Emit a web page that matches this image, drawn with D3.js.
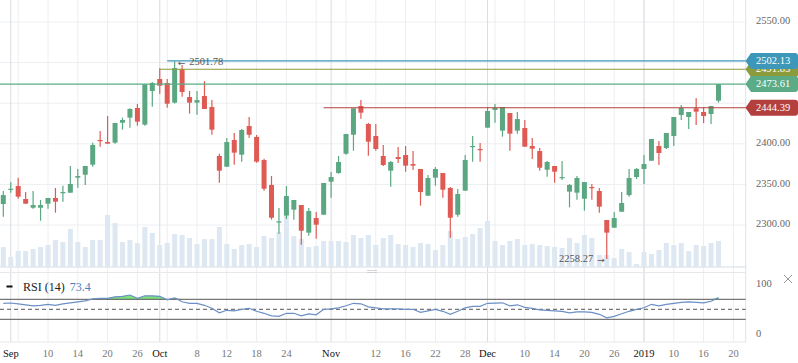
<!DOCTYPE html>
<html>
<head>
<meta charset="utf-8">
<script src="https://cdn.jsdelivr.net/npm/d3@7"></script>
<style>
  body { margin: 0; background: #fff; }
  svg { display: block; font-family: 'Liberation Serif', 'Times New Roman', serif; }
</style>
</head>
<body>
<svg id="chart" width="798" height="363"></svg>
<script>
// daily bars, index 0 = Aug 31
const opens = [2325.9,2343.5,2348.0,2332.0,2321.3,2321.3,2326.3,2333.3,2339.8,2339.8,
  2358.3,2362.0,2374.3,2404.7,2402.2,2401.4,2426.0,2432.2,2444.1,2423.6,
  2465.0,2479.8,2474.9,2450.7,2492.1,2457.6,2450.7,2458.9,2445.3,2385.0,
  2371.8,2404.7,2386.6,2421.9,2408.4,2380.0,2349.3,2303.3,2311.5,2318.9,
  2324.6,2290.6,2308.6,2312.7,2353.4,2364.0,2387.8,2411.2,2446.6,2424.4,
  2409.6,2385.0,2366.9,2383.7,2386.2,2375.1,2369.0,2336.1,2358.3,2364.0,
  2345.6,2312.7,2342.3,2396.5,2393.6,2419.9,2441.6,2416.2,2437.9,2416.2,
  2419.5,2397.3,2391.1,2368.1,2372.7,2358.3,2341.1,2339.8,2332.4,2346.8,
  2341.9,2306.2,2296.7,2316.4,2336.9,2359.1,2369.0,2379.2,2397.3,2394.8,
  2409.6,2435.5,2433.0,2443.7,2439.2,2436.7,2453.1];
const highs = [2341.9,2352.6,2358.3,2340.6,2341.9,2330.8,2333.3,2345.6,2348.4,2372.7,
  2369.0,2372.7,2401.4,2415.8,2434.2,2425.6,2432.2,2443.7,2449.0,2473.2,
  2476.1,2492.9,2479.8,2501.78,2497.0,2465.0,2465.0,2477.3,2453.9,2387.8,
  2407.1,2413.3,2418.2,2433.0,2410.8,2381.7,2360.3,2320.9,2348.0,2330.8,
  2324.6,2320.9,2316.0,2351.7,2365.3,2385.0,2412.1,2443.7,2453.9,2425.6,
  2424.4,2398.5,2378.8,2396.1,2397.3,2391.1,2369.0,2361.6,2371.4,2364.0,
  2346.8,2344.3,2386.2,2409.6,2401.0,2445.3,2449.0,2445.3,2437.9,2439.2,
  2429.3,2407.1,2394.8,2378.8,2372.7,2378.8,2350.5,2360.3,2352.9,2350.5,
  2345.6,2306.2,2316.0,2340.6,2369.0,2370.2,2386.2,2405.9,2403.4,2413.3,
  2433.0,2447.8,2439.2,2456.4,2445.3,2446.6,2473.61];
const lows = [2310.3,2339.8,2332.4,2325.9,2320.1,2305.3,2320.1,2315.2,2328.7,2339.8,
  2346.0,2349.3,2371.8,2396.5,2400.2,2400.2,2417.4,2419.9,2422.3,2422.3,
  2445.7,2461.7,2444.5,2449.5,2458.0,2437.1,2435.9,2442.9,2411.2,2352.1,
  2371.8,2374.3,2378.0,2407.5,2376.8,2342.3,2306.6,2289.3,2307.4,2306.6,
  2275.8,2286.9,2283.2,2312.7,2333.7,2363.2,2386.6,2391.5,2430.9,2385.4,
  2391.5,2372.7,2347.2,2376.4,2365.7,2367.7,2323.8,2336.1,2348.4,2333.7,
  2284.4,2310.3,2342.3,2378.0,2378.0,2419.9,2426.0,2408.8,2391.5,2412.5,
  2396.5,2381.3,2366.9,2359.5,2352.1,2355.4,2321.8,2331.2,2317.6,2331.2,
  2315.2,2258.27,2296.7,2316.4,2334.9,2356.6,2350.5,2379.2,2373.9,2393.6,
  2397.3,2429.3,2418.2,2423.2,2425.6,2424.4,2450.7];
const closes = [2336.9,2344.7,2334.9,2326.3,2324.6,2324.6,2333.3,2328.7,2340.6,2350.5,
  2360.3,2372.7,2398.5,2403.4,2400.2,2425.6,2429.3,2442.9,2427.3,2473.2,
  2474.9,2471.6,2449.4,2493.3,2463.8,2450.7,2453.9,2442.9,2417.4,2366.9,
  2402.2,2389.1,2417.0,2411.2,2378.0,2344.7,2309.0,2304.5,2335.7,2330.8,
  2293.0,2317.2,2300.4,2351.7,2359.1,2377.6,2412.1,2443.7,2438.3,2402.6,
  2393.6,2373.9,2377.6,2381.3,2373.1,2373.1,2340.6,2357.9,2369.0,2343.5,
  2309.0,2338.2,2380.0,2397.3,2392.8,2440.4,2444.4,2445.3,2412.5,2430.5,
  2396.5,2394.0,2370.6,2377.6,2365.7,2359.1,2349.3,2357.9,2352.9,2346.0,
  2322.6,2290.6,2308.6,2327.1,2357.9,2369.0,2375.1,2405.9,2388.7,2413.3,
  2433.0,2444.1,2439.2,2439.6,2434.2,2446.6,2473.61];
const volumes = [20,10,16,16,18,20,22,27,25,38, 25,20,27,27,52,44,25,27,24,40,
  34,22,24,33,32,29,23,28,28,40, 23,18,22,23,20,31,29,35,51,31,
  28,20,21,26,26,26,25,32,29,32, 22,29,32,23,22,20,24,23,17,22,
  36,28,30,33,39,46,26,22,26,28, 22,23,22,21,20,19,29,24,32,29,
  12,12,9,18,15,3,15,13,17,24, 22,24,16,22,21,24,26];
const rsiValues = [62,62.6,61,59,57,58,60,58,61,63, 65,67,71,72,72,75,76,78.6,72,77,
  77,76,69,73,65,62,62,58,52,43, 48,47,50,52,46,42,37,36,42,42,
  37,41,39,50,51,53,57,62,61,55, 53,51,51,51,50,50,44,47,50,46,
  40,46,53,56,56,62,62.5,63,57,59, 54,52,49,48,47,46,43,45,45,44,
  40,33,36,41,46,50,53,60,57,60, 62,64,65,64,63,66,73.4];

const priceTicks = [2300, 2350, 2400, 2450, 2500, 2550];
const rsiTicks = [0, 100];
const tickIndex = [1,6,10,14,18,21,26,30,34,38,44,50,54,58,62,65,70,74,78,82,86,90,94,98];
const tickLabels = ['Sep','10','14','20','26','Oct','8','12','18','24','Nov','12','16','22','28',
  'Dec','10','14','20','26','2019','10','16','20'];
const monthStarts = [1, 21, 44, 65, 86];

const levelValues = [2491.85, 2473.61, 2502.13, 2444.39];
const levelStart = [21, -1, 22, 43];
const levelColors = ['#8c9c3c', '#5aab86', '#3d97b8', '#b3403d'];

const upColor = '#5aa782', downColor = '#e05a54';

const svg = d3.select('#chart');
const plotRight = 745.7;
const mainBottom = 267, rsiTop = 272.5, rsiBottom = 342;

const x = d3.scaleLinear().domain([-0.443, 99.65]).range([0, plotRight]);
const y = d3.scaleLinear().domain([2248.3, 2577.1]).range([mainBottom, 0]);
const yVol = d3.scaleLinear().domain([0, 100]).range([mainBottom, mainBottom - 100]);
const yRsi = d3.scaleLinear().domain([0, 100]).range([334.3, 284.3]);

const idx = d3.range(opens.length);

// grid
const grid = svg.append('g');
grid.selectAll('line.h').data(priceTicks).join('line')
  .attr('x1', 0).attr('x2', plotRight)
  .attr('y1', d => y(d)).attr('y2', d => y(d))
  .attr('stroke', '#eceef1').attr('stroke-width', 1);

grid.selectAll('line.v').data(d3.range(2, 99, 4)).join('line')
  .attr('x1', d => x(d)).attr('x2', d => x(d))
  .attr('y1', 0).attr('y2', rsiBottom)
  .attr('stroke', '#eceef1').attr('stroke-width', 1);

grid.selectAll('line.m').data(monthStarts).join('line')
  .attr('x1', d => x(d)).attr('x2', d => x(d))
  .attr('y1', 0).attr('y2', rsiBottom)
  .attr('stroke', '#d9dce0').attr('stroke-width', 1);

// panel borders
svg.append('line').attr('x1', 0).attr('x2', plotRight).attr('y1', mainBottom).attr('y2', mainBottom)
  .attr('stroke', '#d5dde6');
svg.append('line').attr('x1', 0).attr('x2', plotRight).attr('y1', rsiTop).attr('y2', rsiTop)
  .attr('stroke', '#e6e8eb');
svg.append('line').attr('x1', 0).attr('x2', plotRight).attr('y1', rsiBottom).attr('y2', rsiBottom)
  .attr('stroke', '#e6e8eb');
svg.append('line').attr('x1', plotRight).attr('x2', plotRight).attr('y1', 0).attr('y2', rsiBottom)
  .attr('stroke', '#dfe2e6');

// volume
svg.append('g').selectAll('rect').data(idx).join('rect')
  .attr('x', i => x(i) - 2.5).attr('width', 5)
  .attr('y', i => yVol(volumes[i]))
  .attr('height', i => yVol(0) - yVol(volumes[i]))
  .attr('fill', '#dde8f2');

// candles
const candle = svg.append('g').selectAll('g').data(idx).join('g');
candle.append('line')
  .attr('x1', i => x(i)).attr('x2', i => x(i))
  .attr('y1', i => y(highs[i])).attr('y2', i => y(lows[i]))
  .attr('stroke', i => closes[i] >= opens[i] ? upColor : downColor)
  .attr('stroke-width', 1.2);
candle.append('rect')
  .attr('x', i => x(i) - 2.5).attr('width', 5)
  .attr('y', i => y(Math.max(opens[i], closes[i])))
  .attr('height', i => Math.max(1.2, Math.abs(y(opens[i]) - y(closes[i]))))
  .attr('fill', i => closes[i] >= opens[i] ? upColor : downColor);

// horizontal levels
svg.append('g').selectAll('line').data(levelValues).join('line')
  .attr('x1', (d, k) => levelStart[k] < 0 ? 0 : x(levelStart[k]))
  .attr('x2', plotRight)
  .attr('y1', d => y(d)).attr('y2', d => y(d))
  .attr('stroke', (d, k) => levelColors[k]).attr('stroke-width', 1.2);

// high / low notes
const hiIdx = d3.maxIndex(highs), loIdx = d3.minIndex(lows);
const hiNote = svg.append('text').attr('x', x(hiIdx) + 3).attr('y', y(highs[hiIdx]) + 2)
  .attr('dominant-baseline', 'middle').attr('font-size', 10.5).attr('fill', '#555');
hiNote.append('tspan').attr('font-family', 'DejaVu Sans').attr('font-size', 9).text('\u2190');
hiNote.append('tspan').attr('dx', 4).text(highs[hiIdx].toFixed(2));
const loNote = svg.append('text').attr('x', x(loIdx) - 2).attr('y', y(lows[loIdx]) + 1)
  .attr('dominant-baseline', 'middle').attr('text-anchor', 'end')
  .attr('font-size', 10.5).attr('fill', '#555');
loNote.append('tspan').text(lows[loIdx].toFixed(2));
loNote.append('tspan').attr('dx', 4).attr('font-family', 'DejaVu Sans').attr('font-size', 9).text('\u2192');

// right price axis (labels under a price tag are hidden, as in the source)
const tagY = levelValues.map(v => y(v));
svg.append('g').selectAll('text')
  .data(priceTicks.filter(d => tagY.every(t => Math.abs(t - y(d)) > 9)))
  .join('text')
  .attr('x', 756).attr('y', d => y(d))
  .attr('dominant-baseline', 'middle').attr('font-size', 10.5).attr('fill', '#666')
  .text(d => d.toFixed(2));

// price tags
const tags = svg.append('g').selectAll('g').data(levelValues).join('g')
  .attr('transform', d => `translate(0,${y(d)})`);
tags.append('path')
  .attr('d', 'M745.5,0 L751,-8 L795,-8 Q798,-8 798,-5 L798,5 Q798,8 795,8 L751,8 Z')
  .attr('fill', (d, k) => levelColors[k]);
tags.append('text')
  .attr('x', 756).attr('y', 0.5).attr('dominant-baseline', 'middle')
  .attr('font-size', 10.5).attr('fill', '#fff')
  .text(d => d.toFixed(2));

// RSI panel
svg.append('path').datum(rsiValues)
  .attr('d', d3.area().x((d, i) => x(i)).y0(yRsi(70)).y1(d => yRsi(Math.max(d, 70))))
  .attr('fill', '#7ee07e');
[70, 30].forEach(v => svg.append('line')
  .attr('x1', 0).attr('x2', plotRight).attr('y1', yRsi(v)).attr('y2', yRsi(v))
  .attr('stroke', '#555').attr('stroke-width', 1));
svg.append('line')
  .attr('x1', 0).attr('x2', plotRight).attr('y1', yRsi(50)).attr('y2', yRsi(50))
  .attr('stroke', '#555').attr('stroke-dasharray', '4,3');
svg.append('path').datum(rsiValues)
  .attr('d', d3.line().x((d, i) => x(i)).y(d => yRsi(d)))
  .attr('fill', 'none').attr('stroke', '#6b8fc6').attr('stroke-width', 1.2);

svg.append('g').selectAll('text').data(rsiTicks).join('text')
  .attr('x', 756).attr('y', d => yRsi(d))
  .attr('dominant-baseline', 'middle').attr('font-size', 10.5).attr('fill', '#666')
  .text(d => d);

svg.append('rect').attr('x', 6.5).attr('y', 285.5).attr('width', 6).attr('height', 2).attr('fill', '#111');
const legend = svg.append('text').attr('x', 23).attr('y', 290.5).attr('font-size', 12);
legend.append('tspan').attr('fill', '#222').text('RSI (14)');
legend.append('tspan').attr('dx', 5).attr('fill', '#4a7fc0').text(rsiValues[rsiValues.length - 1]);

// close icon and panel handle
svg.append('path').attr('d', 'M784,275 L792,283 M792,275 L784,283')
  .attr('stroke', '#999').attr('stroke-width', 1);
svg.append('path').attr('d', 'M367,270.5 H377 M367,272.5 H377')
  .attr('stroke', '#c8ccd2').attr('stroke-width', 0.8);

// x axis labels
svg.append('g').selectAll('text').data(tickIndex).join('text')
  .attr('x', d => x(d)).attr('y', 355)
  .attr('text-anchor', 'middle').attr('dominant-baseline', 'middle')
  .attr('font-size', 10.5)
  .attr('fill', (d, k) => isNaN(+tickLabels[k]) || tickLabels[k] === '2019' ? '#111' : '#777')
  .text((d, k) => tickLabels[k]);
</script>
</body>
</html>
